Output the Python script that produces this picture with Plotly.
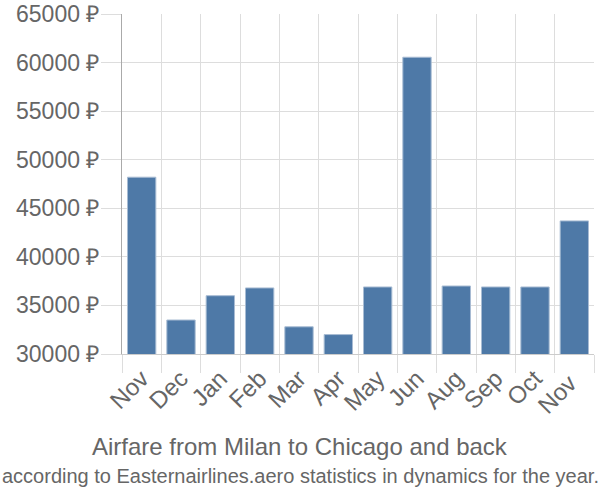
import plotly.graph_objects as go

months = ["Nov", "Dec", "Jan", "Feb", "Mar", "Apr", "May", "Jun", "Aug", "Sep", "Oct", "Nov "]
prices = [48200, 33500, 36000, 36800, 32800, 32000, 36900, 60550, 37000, 36900, 36900, 43700]
y_ticks = [30000, 35000, 40000, 45000, 50000, 55000, 60000, 65000]
y_labels = [f"{v} ₽" for v in y_ticks]

title = "Airfare from Milan to Chicago and back"
subtitle = "according to Easternairlines.aero statistics in dynamics for the year."

fig = go.Figure(go.Bar(
    x=months, y=prices,
    marker=dict(color="#4e79a7", line=dict(color="#a8bcd3", width=1)),
))

L, R, T, B = 122, 6, 14, 146
plot_h = 500 - T - B
plot_w = 600 - L - R

fig.update_layout(
    width=600, height=500,
    margin=dict(l=L, r=R, t=T, b=B, autoexpand=False),
    plot_bgcolor="white", paper_bgcolor="white",
    bargap=0.28,
    showlegend=False,
    font=dict(family="Liberation Sans, Arial, sans-serif", color="#666666"),
    annotations=[
        dict(text=title, x=(300 - L) / plot_w, xref="paper", xanchor="center",
             y=(500 - B - 446) / plot_h, yref="paper", yanchor="middle", showarrow=False,
             font=dict(size=24, color="#666666")),
        dict(text=subtitle, x=(300 - L) / plot_w, xref="paper", xanchor="center",
             y=(500 - B - 476) / plot_h, yref="paper", yanchor="middle", showarrow=False,
             font=dict(size=20, color="#666666")),
    ],
)

fig.update_xaxes(
    type="category", tickson="boundaries", automargin=False,
    showgrid=True, gridcolor="#dddddd", gridwidth=1,
    ticks="outside", ticklen=18, tickcolor="#dddddd",
    tickangle=-45, tickfont=dict(size=24, color="#666666"),
    showline=True, linecolor="#cccccc", linewidth=1,
)
fig.update_yaxes(
    range=[30000, 65000], tickvals=y_ticks, ticktext=y_labels, automargin=False,
    showgrid=True, gridcolor="#dddddd", gridwidth=1,
    ticks="outside", ticklen=20, tickcolor="#dddddd",
    tickfont=dict(size=23, color="#666666"), ticklabelstandoff=-3,
    showline=True, linecolor="#aaaaaa", linewidth=1,
    zeroline=False,
)

fig.write_html("out.html")
